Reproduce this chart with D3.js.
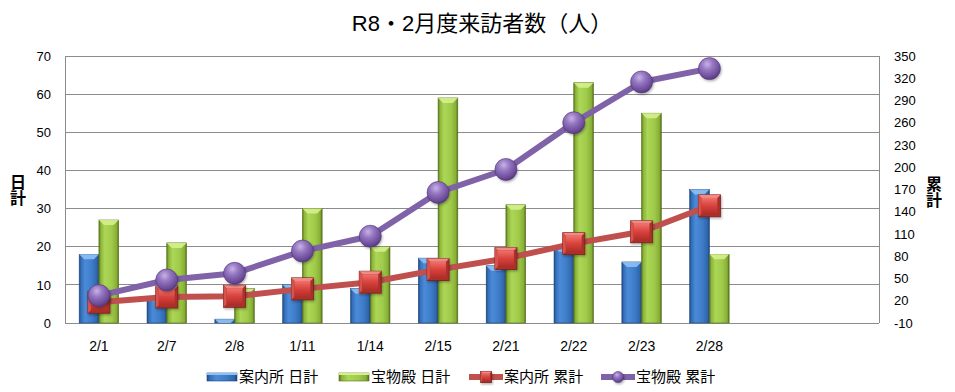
<!DOCTYPE html>
<html><head><meta charset="utf-8">
<script src="https://cdn.jsdelivr.net/npm/d3@7"></script>
<style>body{margin:0;background:#fff} svg{display:block}</style>
</head><body><svg id="c" width="955" height="392"></svg>
<script>
const categories = ["2/1","2/7","2/8","1/11","1/14","2/15","2/21","2/22","2/23","2/28","",""];
const annaiDaily = [18,7,1,10,9,17,15,20,16,35];
const homotsuDaily = [27,21,9,30,20,59,31,63,55,18];
const annaiCum = [18,25,26,36,45,62,77,97,113,148];
const homotsuCum = [27,48,57,87,107,166,197,260,315,333];
const leftTicks = [0,10,20,30,40,50,60,70];
const rightTicks = [-10,20,50,80,110,140,170,200,230,260,290,320,350];
const seriesNames = ["案内所 日計","宝物殿 日計","案内所 累計","宝物殿 累計"];
const titleText = "R8・2月度来訪者数（人）";
const leftTitle = "日計", rightTitle = "累計";

const FONT = "'Liberation Sans','Noto Sans CJK JP',sans-serif";
const svg = d3.select("#c");
const L = 65, R = 879, T = 56, B = 323;

const x = d3.scaleBand().domain(d3.range(categories.length)).range([L, R]).padding(0);
const bw = x.bandwidth();
const x1 = d3.scaleBand().domain(["a","b"]).range([0, bw]).paddingOuter(0.72).paddingInner(0);
const yL = d3.scaleLinear().domain([0,70]).range([B, T]);
const yR = d3.scaleLinear().domain([-10,350]).range([B, T]);

const defs = svg.append("defs");
function hGrad(id, stops){
  const g = defs.append("linearGradient").attr("id", id).attr("x1","0").attr("x2","1").attr("y1","0").attr("y2","0");
  stops.forEach(s => g.append("stop").attr("offset", s[0]).attr("stop-color", s[1]));
}
hGrad("gBlue", [[0,"#1d4a85"],[0.1,"#3670ba"],[0.3,"#4a8bd8"],[0.65,"#3e7cc7"],[0.9,"#2f66ad"],[1,"#1b4479"]]);
hGrad("gGreen", [[0,"#5a771c"],[0.1,"#8db63a"],[0.3,"#abd656"],[0.65,"#a0ca4a"],[0.9,"#87af36"],[1,"#536d19"]]);
const rg = defs.append("radialGradient").attr("id","gPurple").attr("cx","0.4").attr("cy","0.3").attr("r","0.75");
[[0,"#c7b3e6"],[0.35,"#9677c2"],[0.8,"#6a4a96"],[1,"#4e3475"]].forEach(s=>rg.append("stop").attr("offset",s[0]).attr("stop-color",s[1]));
const sg = defs.append("linearGradient").attr("id","gRed").attr("x1","0").attr("x2","0").attr("y1","0").attr("y2","1");
[[0,"#f0716b"],[0.5,"#d8423d"],[1,"#b22d29"]].forEach(s=>sg.append("stop").attr("offset",s[0]).attr("stop-color",s[1]));
const f = defs.append("filter").attr("id","sh").attr("x","-30%").attr("y","-30%").attr("width","160%").attr("height","160%");
f.append("feDropShadow").attr("dx",1).attr("dy",1.5).attr("stdDeviation",1.2).attr("flood-color","#000").attr("flood-opacity",0.3);

// gridlines
svg.append("g").selectAll("line").data(leftTicks).join("line")
  .attr("x1", L).attr("x2", R).attr("y1", d=>yL(d)).attr("y2", d=>yL(d))
  .attr("stroke", "#8c8c8c").attr("stroke-width", 1).attr("shape-rendering","crispEdges");
svg.append("line").attr("x1",L).attr("x2",L).attr("y1",T).attr("y2",B).attr("stroke","#8c8c8c").attr("shape-rendering","crispEdges");
svg.append("line").attr("x1",R).attr("x2",R).attr("y1",T).attr("y2",B).attr("stroke","#8c8c8c").attr("shape-rendering","crispEdges");

// axes
const axL = svg.append("g").attr("transform",`translate(${L},0)`)
  .call(d3.axisLeft(yL).tickValues(leftTicks).tickFormat(d=>String(d)).tickSize(0).tickPadding(14));
const axR = svg.append("g").attr("transform",`translate(${R},0)`)
  .call(d3.axisRight(yR).tickValues(rightTicks).tickFormat(d=>String(d)).tickSize(0).tickPadding(15));
const axB = svg.append("g").attr("transform",`translate(0,${B})`)
  .call(d3.axisBottom(x).tickFormat(i=>categories[i]).tickSize(0).tickPadding(18));
[axL, axR, axB].forEach(a => {
  a.select(".domain").remove();
  a.selectAll("text").attr("font-family", FONT).attr("font-size", 13).attr("fill", "#000");
});
axB.selectAll("text").attr("font-size", 14);

// bars
function drawBars(vals, key, grad, cap, edge){
  const g = svg.append("g");
  vals.forEach((v, i) => {
    const bx = x(i) + x1(key), w = x1.bandwidth(), y0 = yL(v), h = yL(0) - y0;
    g.append("rect").attr("x", bx).attr("y", y0).attr("width", w).attr("height", h)
      .attr("fill", `url(#${grad})`).attr("stroke", edge).attr("stroke-width", 0.6);
    const ch = Math.min(5, h);
    g.append("path").attr("d", `M${bx},${y0}L${bx+w},${y0}L${bx+w-ch},${y0+ch}L${bx+ch},${y0+ch}Z`)
      .attr("fill", cap).attr("opacity", 0.9);
  });
}
drawBars(annaiDaily, "a", "gBlue", "#8fc0f2", "#1c467f");
drawBars(homotsuDaily, "b", "gGreen", "#d4f08e", "#566f1b");

const cx = i => x(i) + bw / 2;
const line = d3.line().x((d,i)=>cx(i)).y(d=>yR(d));

function squareMarker(g, px, py, s){
  const m = g.append("g").attr("filter","url(#sh)");
  m.append("rect").attr("x", px - s/2).attr("y", py - s/2).attr("width", s).attr("height", s)
    .attr("fill", "#a8302c").attr("stroke", "#7c201d").attr("stroke-width", 0.8);
  const b = s * 0.14;
  m.append("path").attr("d", `M${px-s/2},${py-s/2}L${px+s/2},${py-s/2}L${px+s/2-b},${py-s/2+b}L${px-s/2+b},${py-s/2+b}Z`).attr("fill","#f08a84");
  m.append("path").attr("d", `M${px-s/2},${py-s/2}L${px-s/2+b},${py-s/2+b}L${px-s/2+b},${py+s/2-b}L${px-s/2},${py+s/2}Z`).attr("fill","#d5524d");
  m.append("rect").attr("x", px - s/2 + b).attr("y", py - s/2 + b).attr("width", s - 2*b).attr("height", s - 2*b)
    .attr("fill", "url(#gRed)");
}
function circleMarker(g, px, py, r){
  g.append("circle").attr("cx", px).attr("cy", py).attr("r", r).attr("fill","url(#gPurple)")
    .attr("stroke","#4f3677").attr("stroke-width",0.6).attr("filter","url(#sh)");
}
const gRed = svg.append("g");
gRed.append("path").datum(annaiCum).attr("d", line).attr("fill","none")
  .attr("stroke","#c0504d").attr("stroke-width",6).attr("stroke-linejoin","round");
annaiCum.forEach((v,i)=>squareMarker(gRed, cx(i), yR(v), 22));

const gPur = svg.append("g");
gPur.append("path").datum(homotsuCum).attr("d", line).attr("fill","none")
  .attr("stroke","#7f62a8").attr("stroke-width",6).attr("stroke-linejoin","round");
homotsuCum.forEach((v,i)=>circleMarker(gPur, cx(i), yR(v), 11));

// title
svg.append("text").attr("x", 482).attr("y", 31).attr("text-anchor","middle")
  .attr("font-family", FONT).attr("font-size", 22).attr("fill","#000").text(titleText);

// axis titles (vertical)
function vTitle(txt, px, py){
  const t = svg.append("text").attr("font-family", FONT).attr("font-size", 16).attr("font-weight","bold")
    .attr("text-anchor","middle").attr("fill","#000");
  [...txt].forEach((ch, k) => t.append("tspan").attr("x", px).attr("y", py + k * 16).text(ch));
}
vTitle(leftTitle, 18, 188);
vTitle(rightTitle, 934, 190);

// legend
const legX = [207, 339, 469, 601];
const lg = svg.append("g");
seriesNames.forEach((name, k) => {
  const lx = legX[k], ly = 377;
  if (k === 0 || k === 1) {
    lg.append("rect").attr("x", lx).attr("y", ly - 4).attr("width", 30).attr("height", 8)
      .attr("fill", k === 0 ? "url(#gBlue)" : "url(#gGreen)").attr("stroke", k===0?"#1c467f":"#566f1b").attr("stroke-width",0.6);
    lg.append("rect").attr("x", lx).attr("y", ly - 4).attr("width", 30).attr("height", 2)
      .attr("fill", k === 0 ? "#8fc0f2" : "#d4f08e");
  } else {
    lg.append("line").attr("x1", lx).attr("x2", lx + 34).attr("y1", ly).attr("y2", ly)
      .attr("stroke", k === 2 ? "#c0504d" : "#7f62a8").attr("stroke-width", 6);
    if (k === 2) squareMarker(lg, lx + 17, ly, 11);
    else circleMarker(lg, lx + 17, ly, 5.5);
  }
  lg.append("text").attr("x", lx + (k < 2 ? 32 : 35)).attr("y", ly).attr("dy","0.35em")
    .attr("font-family", FONT).attr("font-size", 15).attr("fill","#000").text(name);
});
</script></body></html>
